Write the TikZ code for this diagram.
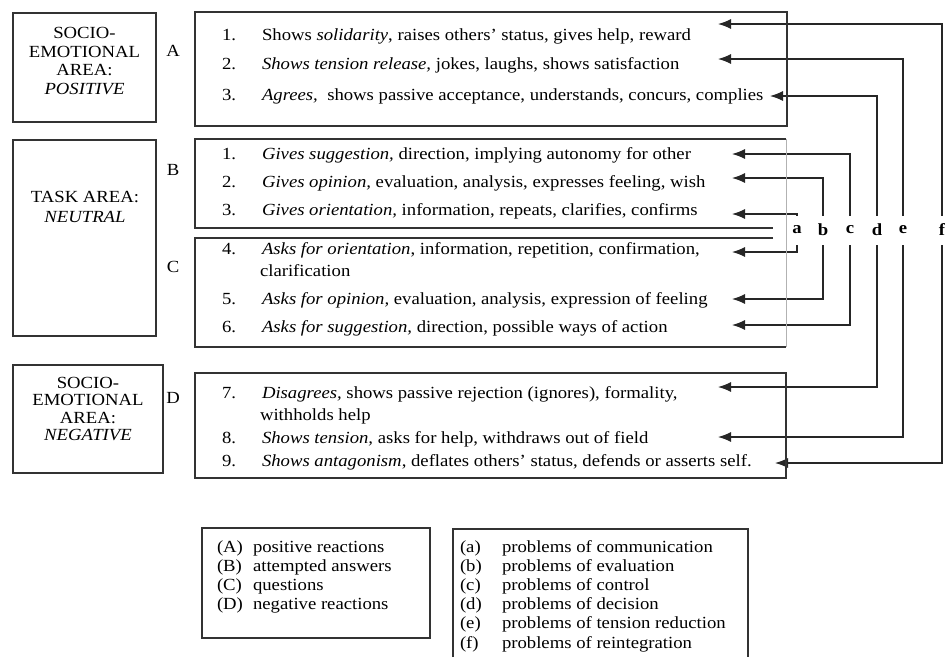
\documentclass[tikz,border=0pt]{standalone}
\usepackage{fontspec}
\setmainfont{Liberation Serif}[FakeStretch=1.1]
\usetikzlibrary{arrows.meta}
\pgfdeclarelayer{bg}
\pgfsetlayers{bg,main}
\begin{document}
\begin{tikzpicture}[x=1pt,y=-1pt,
  every node/.style={inner sep=0pt, outer sep=0pt},
  box/.style={draw=black!80, line width=1.4pt},
  faint/.style={draw=black!30, line width=0.6pt},
  item/.style={anchor=base west, font=\fontsize{17}{20}\selectfont},
  area/.style={align=center, font=\fontsize{17}{18.5}\selectfont},
  grp/.style={font=\fontsize{17}{20}\selectfont},
  key/.style={font=\fontsize{17}{20}\selectfont\bfseries, fill=white,
              inner xsep=2pt, minimum height=29pt},
  link/.style={draw=black!85, line width=1.2pt,
               {Latex[length=13pt,width=10pt]}-{Latex[length=13pt,width=10pt]}},
  leg/.style={anchor=base west, font=\fontsize{17}{19}\selectfont}
]
\useasboundingbox (0,0) rectangle (945,657);

% area boxes on the left
\draw[box] (13,13) rectangle (156,122);
\draw[box] (13,140) rectangle (156,336);
\draw[box] (13,365) rectangle (163,473);
\node[area] (pos) at (84.5,61) {SOCIO-\\EMOTIONAL\\AREA:\\\textit{POSITIVE}};
\node[area, font=\fontsize{17}{20}\selectfont] (neu) at (85,207) {TASK AREA:\\\textit{NEUTRAL}};
\node[area, font=\fontsize{17}{17.3}\selectfont] (neg) at (88,409) {SOCIO-\\EMOTIONAL\\AREA:\\\textit{NEGATIVE}};

% group letters
\node[grp] (gA) at (173,51) {A};
\node[grp] (gB) at (173,170) {B};
\node[grp] (gC) at (173,267) {C};
\node[grp] (gD) at (173,398) {D};

% category boxes
\draw[box] (195,12) rectangle (787,126);
\draw[box] (786,139) -- (195,139) -- (195,228) -- (773,228);
\draw[box] (773,238) -- (195,238) -- (195,347) -- (786,347);
\draw[faint] (786,139) -- (786,347);
\draw[box] (195,373) rectangle (786,478);

% category items
\node[item] (n1) at (222,40) {1.};
\node[item] (i1) at (262,40) {Shows \textit{solidarity}, raises others’ status, gives help, reward};
\node[item] (n2) at (222,69) {2.};
\node[item] (i2) at (262,69) {\textit{Shows tension release,} jokes, laughs, shows satisfaction};
\node[item] (n3) at (222,100) {3.};
\node[item] (i3) at (262,100) {\textit{Agrees,}\ \ shows passive acceptance, understands, concurs, complies};

\node[item] (n4) at (222,159) {1.};
\node[item] (i4) at (262,159) {\textit{Gives suggestion,} direction, implying autonomy for other};
\node[item] (n5) at (222,187) {2.};
\node[item] (i5) at (262,187) {\textit{Gives opinion,} evaluation, analysis, expresses feeling, wish};
\node[item] (n6) at (222,215) {3.};
\node[item] (i6) at (262,215) {\textit{Gives orientation,} information, repeats, clarifies, confirms};

\node[item] (n7) at (222,254) {4.};
\node[item] (i7) at (262,254) {\textit{Asks for orientation}, information, repetition, confirmation,};
\node[item] (i7b) at (260,276) {clarification};
\node[item] (n8) at (222,304) {5.};
\node[item] (i8) at (262,304) {\textit{Asks for opinion,} evaluation, analysis, expression of feeling};
\node[item] (n9) at (222,332) {6.};
\node[item] (i9) at (262,332) {\textit{Asks for suggestion,} direction, possible ways of action};

\node[item] (n10) at (222,398) {7.};
\node[item] (i10) at (262,398) {\textit{Disagrees,} shows passive rejection (ignores), formality,};
\node[item] (i10b) at (260,420) {withholds help};
\node[item] (n11) at (222,443) {8.};
\node[item] (i11) at (262,443) {\textit{Shows tension,} asks for help, withdraws out of field};
\node[item] (n12) at (222,466) {9.};
\node[item] (i12) at (262,466) {\textit{Shows antagonism}, deflates others’ status, defends or asserts self.};

% problem keys
\node[key] (ka) at (797,230) {a};
\node[key] (kb) at (823,230) {b};
\node[key] (kc) at (850,230) {c};
\node[key] (kd) at (877,230) {d};
\node[key] (ke) at (903,230) {e};
\node[key] (kf) at (942,230) {f};

% arrow targets beside the items
\coordinate (tA1) at (718,24);
\coordinate (tA2) at (718,59);
\coordinate (tA3) at (770,96);
\coordinate (tB1) at (732,154);
\coordinate (tB2) at (732,178);
\coordinate (tB3) at (732,214);
\coordinate (tC4) at (732,252);
\coordinate (tC5) at (732,299);
\coordinate (tC6) at (732,325);
\coordinate (tD7) at (718,387);
\coordinate (tD8) at (718,437);
\coordinate (tD9) at (775,463);

% paired links through each key
\begin{pgfonlayer}{bg}
\draw[link] (tB3) -| (ka.center) |- (tC4);
\draw[link] (tB2) -| (kb.center) |- (tC5);
\draw[link] (tB1) -| (kc.center) |- (tC6);
\draw[link] (tA3) -| (kd.center) |- (tD7);
\draw[link] (tA2) -| (ke.center) |- (tD8);
\draw[link] (tA1) -| (kf.center) |- (tD9);
\end{pgfonlayer}

% legends
\draw[box] (202,528) rectangle (430,638);
\foreach \k/\t [count=\j from 0] in {A/positive reactions, B/attempted answers, C/questions, D/negative reactions} {
  \node[leg] (lk\k) at (217,552+19*\j) {(\k)};
  \node[leg] (lt\k) at (253,552+19*\j) {\t};
}
\draw[box] (453,657) -- (453,529) -- (748,529) -- (748,657);
\foreach \k/\t [count=\j from 0] in {a/communication, b/evaluation, c/control, d/decision, e/tension reduction, f/reintegration} {
  \node[leg] (pk\k) at (460,552+19.2*\j) {(\k)};
  \node[leg] (pt\k) at (502,552+19.2*\j) {problems of \t};
}
\end{tikzpicture}
\end{document}
